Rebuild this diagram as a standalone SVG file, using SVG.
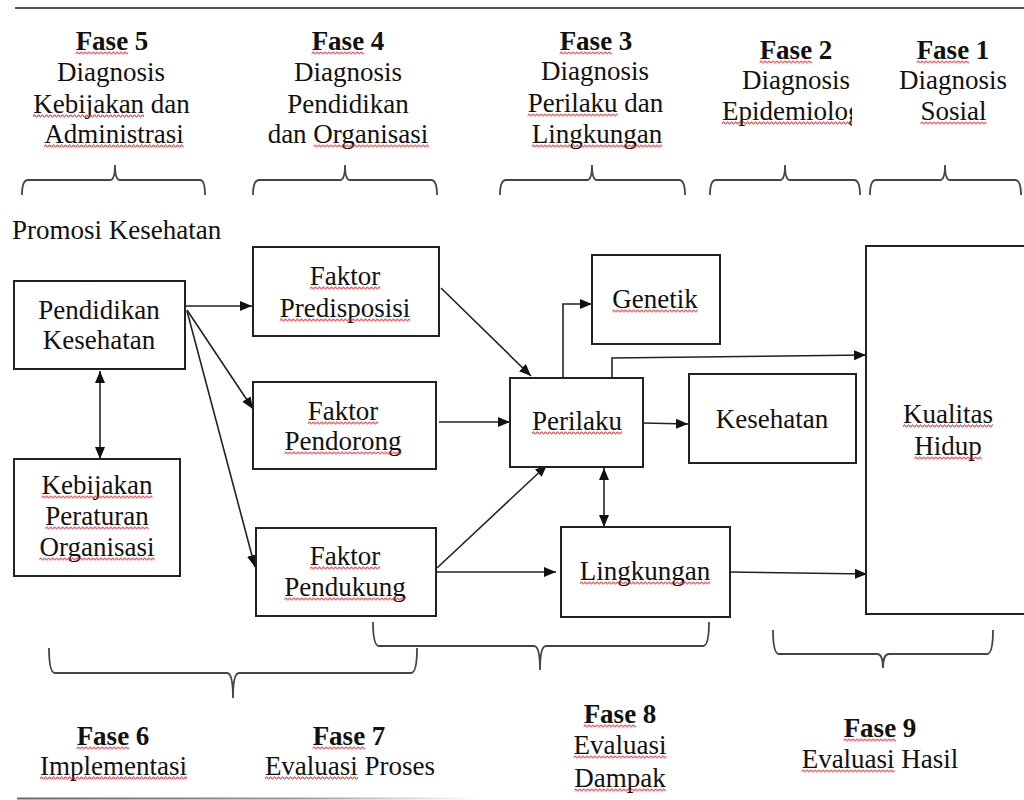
<svg xmlns="http://www.w3.org/2000/svg" width="1024" height="800" viewBox="0 0 1024 800">
<style>
text{font-family:"Liberation Serif","Times New Roman",serif;font-size:27px;fill:#111;text-anchor:middle}
.b{font-weight:bold}
.s{text-anchor:start}
.box{fill:#fff;stroke:#222;stroke-width:2}
.ln{fill:none;stroke:#222;stroke-width:1.6}
.br{fill:none;stroke:#444;stroke-width:1.8}
.rule{stroke:#555;stroke-width:2.2}
</style>
<defs>
<marker id="ah" markerUnits="userSpaceOnUse" markerWidth="13" markerHeight="11" refX="12" refY="5" orient="auto-start-reverse" viewBox="0 0 13 11">
<path d="M0,0 L12,5 L0,10 z" fill="#111"/>
</marker>
<pattern id="sq" width="4" height="4" patternUnits="userSpaceOnUse">
<path d="M0,3 L1,1 L2,1 L3,3 L4,3" fill="none" stroke="#e0202a" stroke-width="0.9"/>
</pattern>
<linearGradient id="fade" gradientUnits="userSpaceOnUse" x1="17" y1="0" x2="480" y2="0">
<stop offset="0" stop-color="#666"/>
<stop offset="0.6" stop-color="#999"/>
<stop offset="1" stop-color="#fff"/>
</linearGradient>
<clipPath id="clipEpi"><rect x="700" y="90" width="152" height="40"/></clipPath>
</defs>
<rect width="1024" height="800" fill="#fff"/>
<line class="rule" x1="15" y1="8" x2="1024" y2="8"/>
<rect x="17" y="797.5" width="463" height="2" fill="url(#fade)"/>

<!-- top headers -->
<g id="fase5">
<text x="112" y="50" class="b">Fase 5</text>
<text x="111" y="81">Diagnosis</text>
<text x="111.5" y="113">Kebijakan dan</text>
<text x="114" y="143">Administrasi</text>
<g transform="translate(75.6,51)"><rect width="52.5" height="4" fill="url(#sq)"/></g>
<g transform="translate(33,114)"><rect width="111" height="4" fill="url(#sq)"/></g>
<g transform="translate(44,144)"><rect width="139.5" height="4" fill="url(#sq)"/></g>
<path class="br" d="M22,195 Q22,180 28,180 L110,180 Q115,180 115,165 Q115,180 120,180 L200,180 Q205,180 205,195"/>
</g>
<g id="fase4">
<text x="348" y="50" class="b">Fase 4</text>
<text x="348" y="81">Diagnosis</text>
<text x="348" y="113">Pendidikan</text>
<text x="348" y="143">dan Organisasi</text>
<g transform="translate(311.6,51)"><rect width="52.5" height="4" fill="url(#sq)"/></g>
<g transform="translate(313.5,144)"><rect width="115.5" height="4" fill="url(#sq)"/></g>
<path class="br" d="M253,195 Q253,180 259,180 L340,180 Q345,180 345,165 Q345,180 350,180 L431,180 Q437,180 437,195"/>
</g>
<g id="fase3">
<text x="596" y="50" class="b">Fase 3</text>
<text x="595" y="80">Diagnosis</text>
<text x="595.5" y="112">Perilaku dan</text>
<text x="597" y="143">Lingkungan</text>
<g transform="translate(559.6,51)"><rect width="52.5" height="4" fill="url(#sq)"/></g>
<g transform="translate(527.6,113)"><rect width="90" height="4" fill="url(#sq)"/></g>
<g transform="translate(531.7,144)"><rect width="130.5" height="4" fill="url(#sq)"/></g>
<path class="br" d="M500,195 Q500,180 506,180 L587,180 Q592,180 592,165 Q592,180 597,180 L679,180 Q685,180 685,195"/>
</g>
<g id="fase2">
<text x="796" y="59" class="b">Fase 2</text>
<text x="796" y="89">Diagnosis</text>
<text x="722" y="120" class="s" clip-path="url(#clipEpi)">Epidemiologi</text>
<g transform="translate(759.6,60)"><rect width="52.5" height="4" fill="url(#sq)"/></g>
<g transform="translate(722,121)"><rect width="130" height="4" fill="url(#sq)"/></g>
<path class="br" d="M710,195 Q710,180 716,180 L780,180 Q785,180 785,165 Q785,180 790,180 L854,180 Q860,180 860,195"/>
</g>
<g id="fase1">
<text x="953" y="59" class="b">Fase 1</text>
<text x="953" y="89">Diagnosis</text>
<text x="953.5" y="120">Sosial</text>
<g transform="translate(916.6,60)"><rect width="52.5" height="4" fill="url(#sq)"/></g>
<g transform="translate(920.5,121)"><rect width="66" height="4" fill="url(#sq)"/></g>
<path class="br" d="M870,195 Q870,180 876,180 L940,180 Q945,180 945,165 Q945,180 950,180 L1015,180 Q1021,180 1021,195"/>
</g>

<g id="promosi">
<text x="12" y="239" class="s">Promosi Kesehatan</text>
</g>

<!-- connectors -->
<g id="connectors">
<line class="ln" x1="186" y1="306" x2="252" y2="306" marker-end="url(#ah)"/>
<line class="ln" x1="187" y1="310" x2="253" y2="409" marker-end="url(#ah)"/>
<line class="ln" x1="187" y1="311" x2="255" y2="567" marker-end="url(#ah)"/>
<line class="ln" x1="100" y1="371" x2="100" y2="459" marker-start="url(#ah)" marker-end="url(#ah)"/>
<line class="ln" x1="441" y1="288" x2="531" y2="376" marker-end="url(#ah)"/>
<line class="ln" x1="439" y1="422" x2="510" y2="422" marker-end="url(#ah)"/>
<line class="ln" x1="437" y1="568" x2="547" y2="465" marker-end="url(#ah)"/>
<line class="ln" x1="437" y1="572" x2="556" y2="572" marker-end="url(#ah)"/>
<polyline class="ln" points="563,378 563,304 592,304" marker-end="url(#ah)"/>
<polyline class="ln" points="612,378 612,358 866,355" marker-end="url(#ah)"/>
<line class="ln" x1="643" y1="423" x2="688" y2="424" marker-end="url(#ah)"/>
<line class="ln" x1="604" y1="468" x2="604" y2="527" marker-start="url(#ah)" marker-end="url(#ah)"/>
<line class="ln" x1="730" y1="572" x2="867" y2="574" marker-end="url(#ah)"/>
</g>

<!-- nodes -->
<g id="pendidikan">
<rect class="box" x="14" y="281" width="171" height="88"/>
<text x="99" y="319">Pendidikan</text>
<text x="99" y="349">Kesehatan</text>
</g>
<g id="kebijakan">
<rect class="box" x="14" y="459" width="166" height="117"/>
<text x="97" y="494">Kebijakan</text>
<text x="97" y="525">Peraturan</text>
<text x="97" y="556">Organisasi</text>
<g transform="translate(41.5,495)"><rect width="111" height="4" fill="url(#sq)"/></g>
<g transform="translate(45.3,526)"><rect width="103.5" height="4" fill="url(#sq)"/></g>
<g transform="translate(39.3,557)"><rect width="115.5" height="4" fill="url(#sq)"/></g>
</g>
<g id="predisposisi">
<rect class="box" x="253" y="247" width="186" height="89"/>
<text x="345" y="285">Faktor</text>
<text x="345" y="317">Predisposisi</text>
<g transform="translate(309.8,286)"><rect width="70.5" height="4" fill="url(#sq)"/></g>
<g transform="translate(279.8,318)"><rect width="130.5" height="4" fill="url(#sq)"/></g>
</g>
<g id="pendorong">
<rect class="box" x="253" y="382" width="183" height="87"/>
<text x="343" y="420">Faktor</text>
<text x="343" y="450">Pendorong</text>
<g transform="translate(307.8,421)"><rect width="70.5" height="4" fill="url(#sq)"/></g>
<g transform="translate(284.5,451)"><rect width="117" height="4" fill="url(#sq)"/></g>
</g>
<g id="pendukung">
<rect class="box" x="256" y="528" width="180" height="88"/>
<text x="345" y="565">Faktor</text>
<text x="345" y="596">Pendukung</text>
<g transform="translate(309.8,566)"><rect width="70.5" height="4" fill="url(#sq)"/></g>
<g transform="translate(284.3,597)"><rect width="121.5" height="4" fill="url(#sq)"/></g>
</g>
<g id="genetik">
<rect class="box" x="592" y="255" width="128" height="89"/>
<text x="655" y="308">Genetik</text>
<g transform="translate(612.3,309)"><rect width="85.5" height="4" fill="url(#sq)"/></g>
</g>
<g id="perilaku">
<rect class="box" x="510" y="378" width="133" height="89"/>
<text x="577" y="430">Perilaku</text>
<g transform="translate(532,431)"><rect width="90" height="4" fill="url(#sq)"/></g>
</g>
<g id="kesehatan">
<rect class="box" x="689" y="374" width="167" height="89"/>
<text x="772" y="428">Kesehatan</text>
</g>
<g id="kualitas">
<rect class="box" x="866" y="246" width="164" height="368"/>
<text x="948" y="423">Kualitas</text>
<text x="948" y="455">Hidup</text>
<g transform="translate(903,424)"><rect width="90" height="4" fill="url(#sq)"/></g>
<g transform="translate(914.3,456)"><rect width="67.5" height="4" fill="url(#sq)"/></g>
</g>
<g id="lingkungan">
<rect class="box" x="561" y="527" width="169" height="90"/>
<text x="645" y="580">Lingkungan</text>
<g transform="translate(579.8,581)"><rect width="130.5" height="4" fill="url(#sq)"/></g>
</g>

<!-- bottom phases -->
<g id="fase67brace">
<path class="br" d="M49,648 Q49,673 55,673 L227,673 Q233,673 233,698 Q233,673 239,673 L411,673 Q417,673 417,648"/>
</g>
<g id="fase6">
<text x="113" y="745" class="b">Fase 6</text>
<text x="113.5" y="775">Implementasi</text>
<g transform="translate(76.6,746)"><rect width="52.5" height="4" fill="url(#sq)"/></g>
<g transform="translate(40,776)"><rect width="147" height="4" fill="url(#sq)"/></g>
</g>
<g id="fase7">
<text x="349" y="745" class="b">Fase 7</text>
<text x="350" y="775">Evaluasi Proses</text>
<g transform="translate(312.6,746)"><rect width="52.5" height="4" fill="url(#sq)"/></g>
<g transform="translate(265,776)"><rect width="93" height="4" fill="url(#sq)"/></g>
</g>
<g id="fase8">
<path class="br" d="M373,622 Q373,646 379,646 L534,646 Q540,646 540,670 Q540,646 546,646 L703,646 Q709,646 709,622"/>
<text x="620" y="723" class="b">Fase 8</text>
<text x="620" y="754">Evaluasi</text>
<text x="620" y="787">Dampak</text>
<g transform="translate(583.6,724)"><rect width="52.5" height="4" fill="url(#sq)"/></g>
<g transform="translate(573.5,755)"><rect width="93" height="4" fill="url(#sq)"/></g>
<g transform="translate(574.3,788)"><rect width="91.5" height="4" fill="url(#sq)"/></g>
</g>
<g id="fase9">
<path class="br" d="M773,630 Q773,654 779,654 L877,654 Q883,654 883,668 Q883,654 889,654 L987,654 Q993,654 993,630"/>
<text x="880" y="737" class="b">Fase 9</text>
<text x="880" y="768">Evaluasi Hasil</text>
<g transform="translate(843.6,738)"><rect width="52.5" height="4" fill="url(#sq)"/></g>
<g transform="translate(801.6,769)"><rect width="93" height="4" fill="url(#sq)"/></g>
</g>
</svg>
